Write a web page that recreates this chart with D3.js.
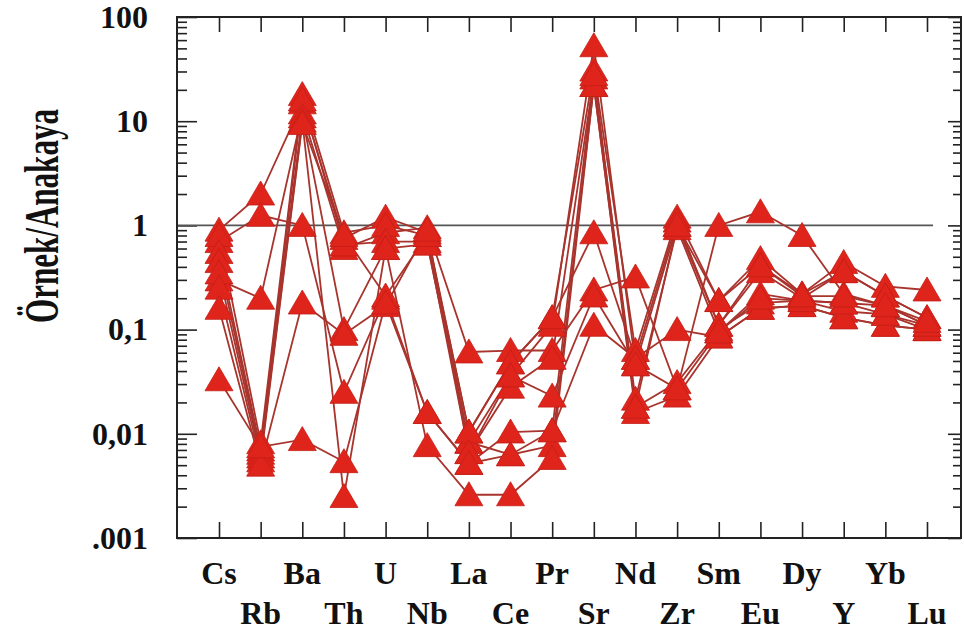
<!DOCTYPE html>
<html>
<head>
<meta charset="utf-8">
<script src="https://cdn.jsdelivr.net/npm/d3@7"></script>
<style>
  body { margin: 0; background: #fff; }
  svg text { font-family: "Liberation Serif", "Times New Roman", serif; font-weight: bold; fill: #111; }
</style>
</head>
<body>
<div id="chart"></div>
<script>
// elementler (x ekseni)
const elements = ["Cs","Rb","Ba","Th","U","Nb","La","Ce","Pr","Sr","Nd","Zr","Sm","Eu","Dy","Y","Yb","Lu"];
const yTickValues = [0.001, 0.01, 0.1, 1, 10, 100];
const yTickLabels = [".001", "0,01", "0,1", "1", "10", "100"];

// ornekler, elementlerle ayni sirada
const s1  = [0.9, 2.0, 15, 0.75, 1.2, 0.85, 0.0104, 0.048, 0.13, 31, 0.063, 1.2, 0.19, 0.48, 0.22, 0.44, 0.26, 0.24];
const s2  = [0.7, 1.25, 1.0, 0.025, 0.2, 0.016, 0.0052, 0.0104, 0.0107, 0.11, 0.053, 0.1, 0.085, 0.16, 0.17, 0.13, 0.11, 0.1];
const s3  = [0.3, 0.2, 12, 0.6, 0.85, 0.95, 0.061, 0.063, 0.063, 0.24, 0.32, 0.027, 1.0, 1.35, 0.8, 0.22, 0.17, 0.11];
const s4  = [0.8, 0.0082, 18, 0.85, 1.0, 0.8, 0.0083, 0.036, 0.11, 53, 0.046, 1.0, 0.11, 0.41, 0.22, 0.36, 0.21, 0.13];
const s5  = [0.55, 0.007, 16, 0.65, 0.7, 0.7, 0.0066, 0.028, 0.053, 26, 0.0215, 0.93, 0.095, 0.22, 0.19, 0.18, 0.17, 0.11];
const s6  = [0.45, 0.0065, 11, 0.1, 0.6, 0.66, 0.0083, 0.0063, 0.0077, 22, 0.018, 0.031, 0.1, 0.18, 0.19, 0.15, 0.14, 0.1];
const s7  = [0.35, 0.006, 10, 0.0025, 0.6, 0.0077, 0.0026, 0.0026, 0.0058, 22, 0.016, 0.023, 0.085, 0.16, 0.17, 0.13, 0.11, 0.1];
const s8  = [0.25, 0.0055, 9.5, 0.8, 0.21, 0.8, 0.0104, 0.048, 0.13, 0.85, 0.053, 1.1, 0.11, 0.36, 0.2, 0.36, 0.21, 0.13];
const s9  = [0.16, 0.005, 0.18, 0.09, 0.17, 0.9, 0.0066, 0.036, 0.023, 0.21, 0.046, 0.027, 0.095, 0.2, 0.19, 0.18, 0.14, 0.11];
const s10 = [0.033, 0.0075, 0.0088, 0.0054, 0.18, 0.016, 0.0052, 0.0063, 0.0107, 28, 0.018, 1.0, 0.19, 0.41, 0.21, 0.21, 0.17, 0.12];
const samples = [s1, s2, s3, s4, s5, s6, s7, s8, s9, s10];

function drawChart() {
  const width = 964, height = 634;
  const left = 177, right = 961, top = 17, bottom = 538;

  const svg = d3.select("#chart").append("svg")
      .attr("width", width)
      .attr("height", height);

  const x = d3.scalePoint().domain(elements).range([219, 927]);
  const y = d3.scaleLog().domain([0.001, 100]).range([bottom, top]);

  const minor = [];
  yTickValues.slice(0, -1).forEach(d => {
    for (let k = 2; k <= 9; k++) minor.push(d * k);
  });

  // sol eksen
  svg.append("g")
      .attr("transform", "translate(" + left + ",0)")
      .call(d3.axisLeft(y).tickValues(minor).tickSize(-10).tickSizeOuter(0).tickFormat(""))
      .call(g => g.select(".domain").remove());
  svg.append("g")
      .attr("transform", "translate(" + left + ",0)")
      .call(d3.axisLeft(y).tickValues(yTickValues).tickSize(-20).tickSizeOuter(0).tickPadding(29)
        .tickFormat((d, i) => yTickLabels[i]))
      .call(g => g.select(".domain").remove())
      .call(g => g.selectAll("text").style("font-size", "32px").attr("fill", "#111"));

  // sag eksen
  svg.append("g")
      .attr("transform", "translate(" + right + ",0)")
      .call(d3.axisRight(y).tickValues(minor).tickSize(-8).tickSizeOuter(0).tickFormat(""))
      .call(g => g.select(".domain").remove());
  svg.append("g")
      .attr("transform", "translate(" + right + ",0)")
      .call(d3.axisRight(y).tickValues(yTickValues).tickSize(-13).tickSizeOuter(0).tickFormat(""))
      .call(g => g.select(".domain").remove());

  // ust ve alt tikler
  svg.append("g")
      .attr("transform", "translate(0," + top + ")")
      .call(d3.axisTop(x).tickSize(-15).tickSizeOuter(0).tickFormat(""))
      .call(g => g.select(".domain").remove());
  svg.append("g")
      .attr("transform", "translate(0," + bottom + ")")
      .call(d3.axisBottom(x).tickSize(-16).tickSizeOuter(0).tickFormat(""))
      .call(g => g.select(".domain").remove());

  svg.selectAll(".tick line").attr("stroke", "#222").attr("stroke-width", 1.6);

  // element isimleri, iki sira
  svg.selectAll("text.el")
      .data(elements)
      .enter().append("text")
      .attr("class", "el")
      .attr("x", d => x(d))
      .attr("y", (d, i) => i % 2 === 0 ? 584 : 624)
      .attr("text-anchor", "middle")
      .style("font-size", "32px")
      .text(d => d);

  // y basligi: dar gorunum icin yatayda sikistir
  const yLabel = svg.append("text")
      .attr("text-anchor", "middle")
      .style("font-size", "48px")
      .text("Örnek/Anakaya");
  const k = 214 / yLabel.node().getComputedTextLength();
  yLabel.attr("transform", "translate(58,216) rotate(-90) scale(" + k + ",1)");

  // 1 referans cizgisi
  svg.append("line")
      .attr("x1", left).attr("x2", 933)
      .attr("y1", y(1)).attr("y2", y(1))
      .attr("stroke", "#555")
      .attr("stroke-width", 1.6);

  // cizgiler
  const line = d3.line()
      .x((d, i) => x(elements[i]))
      .y(d => y(d));

  svg.selectAll("path.sample")
      .data(samples)
      .enter().append("path")
      .attr("class", "sample")
      .attr("fill", "none")
      .attr("stroke", "#a8342d")
      .attr("stroke-width", 1.8)
      .attr("d", line);

  // ucgenler
  const points = [];
  samples.forEach(s => s.forEach((v, i) => points.push({ el: elements[i], v: v })));

  svg.selectAll("path.tri")
      .data(points)
      .enter().append("path")
      .attr("class", "tri")
      .attr("transform", d => "translate(" + x(d.el) + "," + y(d.v) + ")")
      .attr("d", "M0,-13L14,11L-14,11Z")
      .attr("fill", "#df241b")
      .attr("stroke", "#c41e16")
      .attr("stroke-width", 0.8);

  // cerceve
  svg.append("rect")
      .attr("x", left).attr("y", top)
      .attr("width", right - left).attr("height", bottom - top)
      .attr("fill", "none")
      .attr("stroke", "#222")
      .attr("stroke-width", 2);
}

drawChart();
</script>
</body>
</html>
